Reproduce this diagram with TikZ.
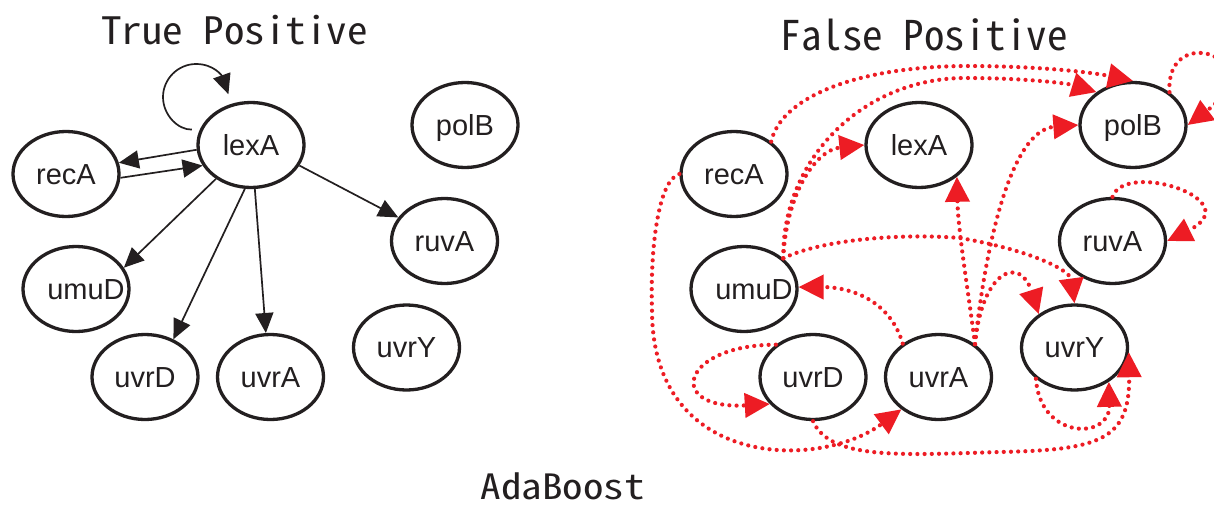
\documentclass[tikz,border=0pt]{standalone}
\usepackage{fontspec}
\setmainfont{Liberation Sans}
\newfontfamily\gothic[RawFeature=+hwid]{Noto Sans CJK JP}
\usetikzlibrary{arrows.meta,shapes.geometric}
\definecolor{fpred}{RGB}{237,28,36}
\definecolor{ink}{RGB}{35,31,32}
\tikzset{
  gene/.style={ellipse,draw=ink,line width=3.3pt,minimum width=106pt,minimum height=85pt,
    inner sep=0pt,text=ink,text height=20.5pt,text depth=0pt,font=\fontsize{29}{30}\selectfont},
  tpedge/.style={draw=ink,line width=1.7pt,-{Triangle[length=20pt,width=18pt]}},
  fpedge/.style={draw=fpred,line width=4.2pt,line cap=round,dash pattern=on 0pt off 7.2pt,
    -{Triangle[length=25pt,width=24pt]}},
  heading/.style={font=\gothic\fontsize{41}{41}\selectfont,text=ink,anchor=base,inner sep=0pt}
}
\begin{document}
\begin{tikzpicture}[x=1pt,y=-1pt]
\fill[white] (0,0) rectangle (1214,508);
\useasboundingbox (0,0) rectangle (1214,508);

% headings
\node[heading,yscale=0.92] (tpTitle) at (234.5,44.3) {True Positive};
\node[heading] (fpTitle) at (924,51) {False Positive};
\node[heading,yscale=0.85] (abTitle) at (562.5,499) {AdaBoost};

% true positive network
\node[gene] (tRecA) at (66,174) {recA};
\node[gene] (tLexA) at (251,145) {lexA};
\node[gene] (tPolB) at (465,125) {polB};
\node[gene] (tRuvA) at (444.5,241) {ruvA};
\node[gene] (tUmuD) at (76,289) {\makebox[0pt][c]{\hspace*{20pt}umuD}};
\node[gene] (tUvrD) at (145,377) {uvrD};
\node[gene] (tUvrA) at (270.5,377) {uvrA};
\node[gene] (tUvrY) at (406.5,347.5) {uvrY};

\draw[tpedge,shorten <=8pt,shorten >=10pt] (tLexA.163) .. controls (178,130) and (163,115) .. (163,97)
  .. controls (163,79) and (178,64) .. (196,64) .. controls (214,64) and (222,76) .. (tLexA.115);
\draw[tpedge] (tLexA.185) -- (tRecA.12.5);
\draw[tpedge] (tRecA.-4) -- (tLexA.203);
\draw[tpedge] (tLexA.224) -- (tUmuD.24);
\draw[tpedge] (tLexA.262) -- (tUvrD.53);
\draw[tpedge] (tLexA.275) -- (tUvrA.96);
\draw[tpedge] (tLexA.-23) -- (tRuvA.153);

% false positive network
\node[gene] (fRecA) at (734,174) {recA};
\node[gene] (fLexA) at (919,145) {lexA};
\node[gene] (fPolB) at (1133,125) {polB};
\node[gene] (fRuvA) at (1112.5,241) {ruvA};
\node[gene] (fUmuD) at (744,289) {\makebox[0pt][c]{\hspace*{20pt}umuD}};
\node[gene] (fUvrD) at (813,377) {uvrD};
\node[gene] (fUvrA) at (938.5,377) {uvrA};
\node[gene] (fUvrY) at (1074.5,347.5) {uvrY};

\draw[fpedge] (fRecA.41) .. controls (780,100) and (850,67) .. (965,66)
  .. controls (1050,66) and (1100,74) .. (fPolB.90);
\draw[fpedge] (fUmuD.38) .. controls (782,158) and (864,78) .. (965,78)
  .. controls (1030,78) and (1070,84) .. (fPolB.138);
\draw[fpedge] (fUmuD.38) .. controls (786,195) and (815,150) .. (fLexA.180);
\draw[fpedge] (fUmuD.38) .. controls (820,240) and (900,233) .. (960,238)
  .. controls (1030,250) and (1070,270) .. (fUvrY.90);
\draw[fpedge] (fUvrA.42) .. controls (968,290) and (958,230) .. (fLexA.-40);
\draw[fpedge] (fUvrA.42) .. controls (985,250) and (1010,130) .. (fPolB.180);
\draw[fpedge] (fUvrA.42) .. controls (982,270) and (1020,255) .. (fUvrY.137);
\draw[fpedge] (fUvrA.137) .. controls (890,300) and (850,287) .. (fUmuD.2);
\draw[fpedge] (fPolB.42) .. controls (1165,20) and (1275,60) .. (fPolB.0);
\draw[fpedge] (fRuvA.90) .. controls (1125,160) and (1250,200) .. (fRuvA.0);
\draw[fpedge] (fRecA.180) .. controls (658,180) and (650,250) .. (652,310)
  .. controls (652,470) and (820,470) .. (fUvrA.221);
\draw[fpedge] (fUvrD.139) .. controls (680,345) and (665,410) .. (fUvrD.212);
\draw[fpedge] (fUvrD.270) .. controls (830,460) and (900,455) .. (1000,452)
  .. controls (1100,450) and (1130,440) .. (fUvrY.-5);
\draw[fpedge] (fUvrY.219) .. controls (1040,440) and (1110,440) .. (fUvrY.-45);
\end{tikzpicture}
\end{document}
